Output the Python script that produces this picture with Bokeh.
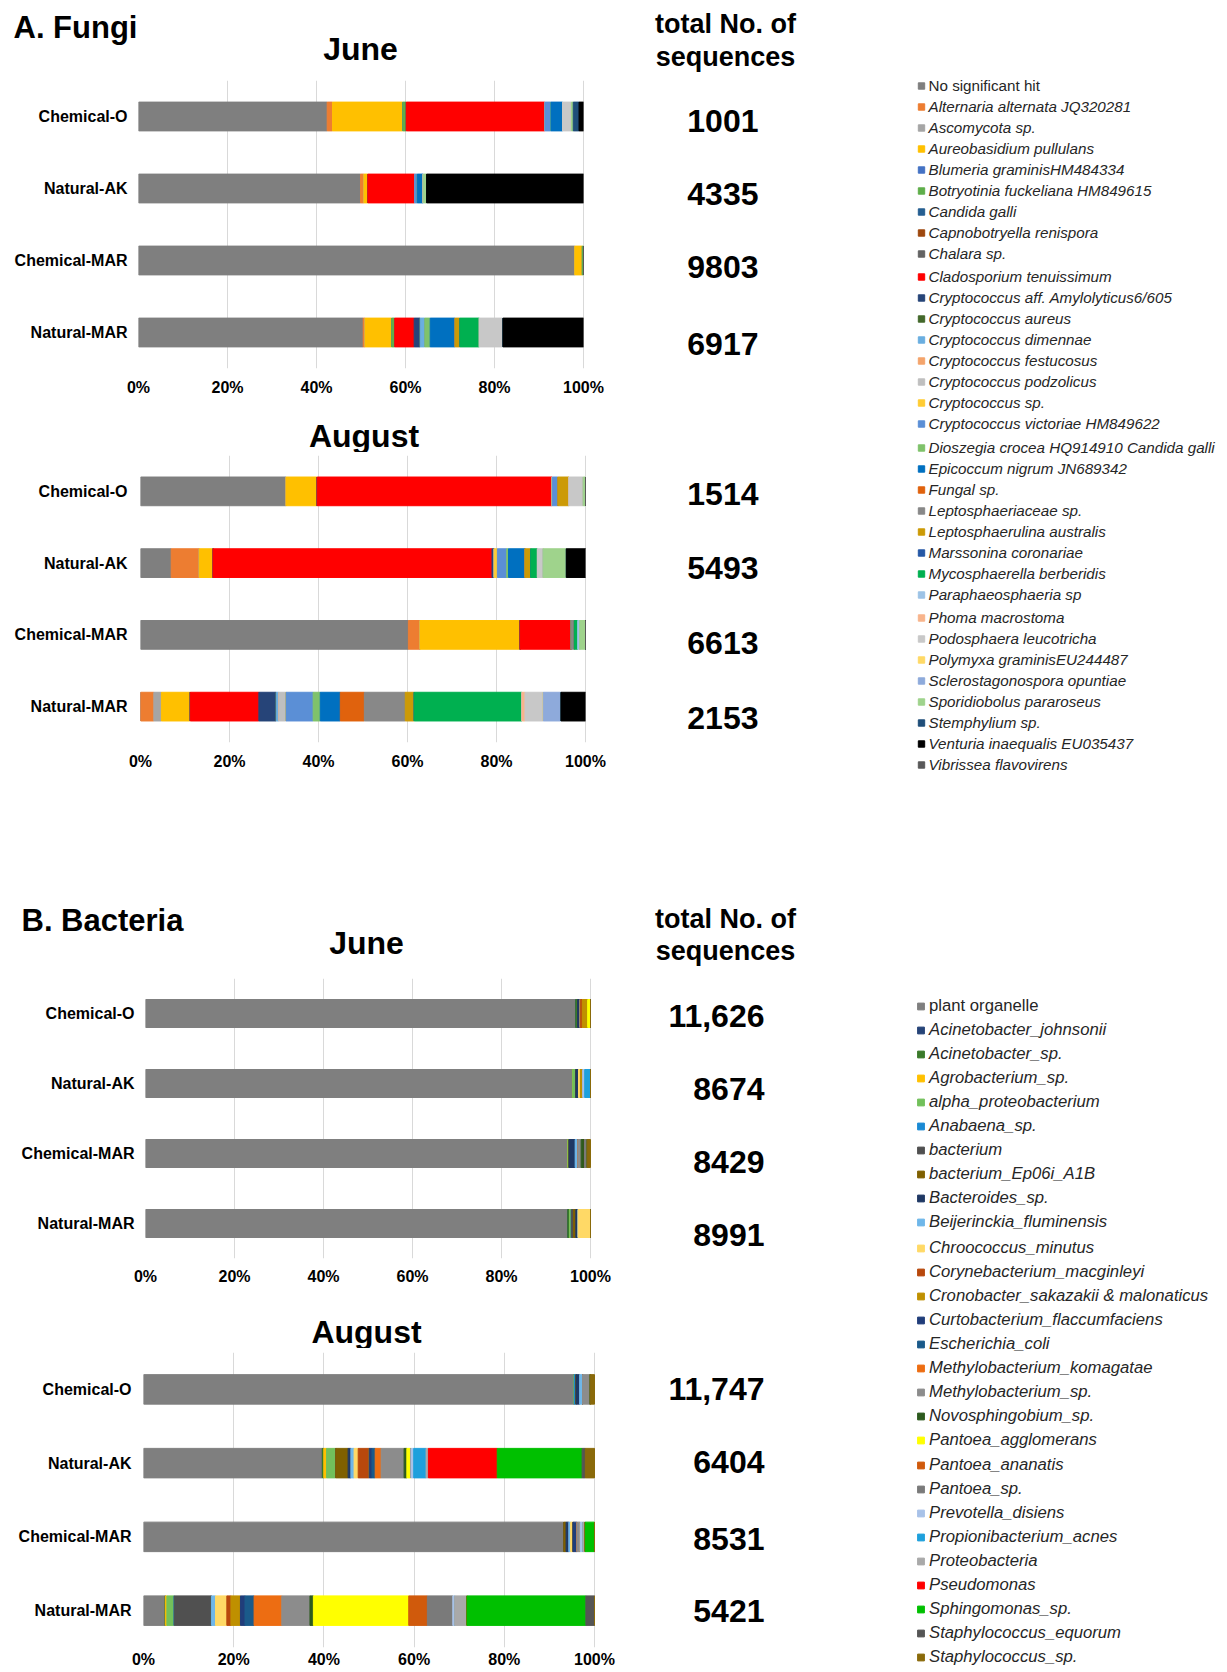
from bokeh.plotting import figure
from bokeh.models import (ColumnDataSource, FactorRange, Range1d, FixedTicker,
                          NumeralTickFormatter, Legend, LegendItem)
from bokeh.core.properties import value
from bokeh.layouts import column, row
from bokeh.embed import file_html
from bokeh.resources import INLINE

FONT = "Liberation Sans"

# ---------------- data ----------------
SAMPLES = ["Chemical-O", "Natural-AK", "Chemical-MAR", "Natural-MAR"]
TICKS = [0.0, 0.2, 0.4, 0.6, 0.8, 1.0]

FUNGI_SPECIES = [
    "No significant hit", "Alternaria alternata JQ320281", "Ascomycota sp.",
    "Aureobasidium pullulans", "Blumeria graminisHM484334", "Botryotinia fuckeliana HM849615",
    "Candida galli", "Capnobotryella renispora", "Chalara sp.", "Cladosporium tenuissimum",
    "Cryptococcus aff. Amylolyticus6/605", "Cryptococcus aureus", "Cryptococcus dimennae",
    "Cryptococcus festucosus", "Cryptococcus podzolicus", "Cryptococcus sp.",
    "Cryptococcus victoriae HM849622", "Dioszegia crocea HQ914910 Candida galli",
    "Epicoccum nigrum JN689342", "Fungal sp.", "Leptosphaeriaceae sp.",
    "Leptosphaerulina australis", "Marssonina coronariae", "Mycosphaerella berberidis",
    "Paraphaeosphaeria sp", "Phoma macrostoma", "Podosphaera leucotricha",
    "Polymyxa graminisEU244487", "Sclerostagonospora opuntiae", "Sporidiobolus pararoseus",
    "Stemphylium sp.", "Venturia inaequalis EU035437", "Vibrissea flavovirens",
]
FUNGI_COLORS = [
    "#7f7f7f", "#ed7d31", "#a5a5a5", "#ffc000", "#4472c4", "#5fae4a",
    "#255e91", "#9e480e", "#636363", "#ff0000", "#264478", "#43682b",
    "#6aaee0", "#f4a46c", "#bfbfbf", "#ffcc33", "#5b8fd6", "#7fc26b",
    "#0070c0", "#e0620d", "#888888", "#cc9a06", "#2658a6", "#00b050",
    "#9dc3e6", "#f8b48c", "#c8c8c8", "#ffd966", "#8eaadb", "#9fd38c",
    "#1f4e79", "#000000", "#595959",
]

FJ_CHEM_O = {"No significant hit": 42.4, "Alternaria alternata JQ320281": 1.2,
             "Aureobasidium pullulans": 15.8, "Botryotinia fuckeliana HM849615": 0.8,
             "Cladosporium tenuissimum": 31.1, "Cryptococcus victoriae HM849622": 1.4,
             "Epicoccum nigrum JN689342": 2.6, "Podosphaera leucotricha": 2.0,
             "Sporidiobolus pararoseus": 0.4, "Stemphylium sp.": 1.3,
             "Venturia inaequalis EU035437": 1.0}
FJ_NAT_AK = {"No significant hit": 49.9, "Alternaria alternata JQ320281": 0.75,
             "Aureobasidium pullulans": 0.9, "Cladosporium tenuissimum": 10.5,
             "Cryptococcus victoriae HM849622": 0.6, "Epicoccum nigrum JN689342": 1.35,
             "Sporidiobolus pararoseus": 0.75, "Venturia inaequalis EU035437": 35.25}
FJ_CHEM_MAR = {"No significant hit": 98.05, "Aureobasidium pullulans": 1.7,
               "Botryotinia fuckeliana HM849615": 0.25}
FJ_NAT_MAR = {"No significant hit": 50.5, "Alternaria alternata JQ320281": 0.4,
              "Aureobasidium pullulans": 6.0, "Botryotinia fuckeliana HM849615": 0.7,
              "Cladosporium tenuissimum": 4.35, "Cryptococcus aff. Amylolyticus6/605": 1.35,
              "Cryptococcus dimennae": 1.05, "Dioszegia crocea HQ914910 Candida galli": 1.2,
              "Epicoccum nigrum JN689342": 5.6, "Leptosphaerulina australis": 1.1,
              "Mycosphaerella berberidis": 4.35, "Podosphaera leucotricha": 5.3,
              "Venturia inaequalis EU035437": 18.1}

FA_CHEM_O = {"No significant hit": 32.7, "Aureobasidium pullulans": 7.0,
             "Cladosporium tenuissimum": 52.8, "Cryptococcus victoriae HM849622": 1.3,
             "Leptosphaerulina australis": 2.5, "Podosphaera leucotricha": 3.2,
             "Sporidiobolus pararoseus": 0.5}
FA_NAT_AK = {"No significant hit": 6.9, "Alternaria alternata JQ320281": 6.3,
             "Aureobasidium pullulans": 3.1, "Cladosporium tenuissimum": 62.7,
             "Cryptococcus aff. Amylolyticus6/605": 0.5, "Cryptococcus sp.": 0.7,
             "Cryptococcus victoriae HM849622": 2.1,
             "Dioszegia crocea HQ914910 Candida galli": 0.4,
             "Epicoccum nigrum JN689342": 3.7, "Leptosphaerulina australis": 1.3,
             "Mycosphaerella berberidis": 1.5, "Podosphaera leucotricha": 1.3,
             "Sporidiobolus pararoseus": 5.2, "Venturia inaequalis EU035437": 4.3}
FA_CHEM_MAR = {"No significant hit": 60.2, "Alternaria alternata JQ320281": 2.6,
               "Aureobasidium pullulans": 22.5, "Cladosporium tenuissimum": 11.5,
               "Leptosphaeriaceae sp.": 0.7, "Mycosphaerella berberidis": 0.75,
               "Paraphaeosphaeria sp": 0.45, "Sporidiobolus pararoseus": 1.3}
FA_NAT_MAR = {"Alternaria alternata JQ320281": 3.0, "Ascomycota sp.": 1.7,
              "Aureobasidium pullulans": 6.5, "Cladosporium tenuissimum": 15.4,
              "Cryptococcus aff. Amylolyticus6/605": 3.9, "Cryptococcus dimennae": 0.6,
              "Cryptococcus podzolicus": 1.6, "Cryptococcus victoriae HM849622": 6.1,
              "Dioszegia crocea HQ914910 Candida galli": 1.6,
              "Epicoccum nigrum JN689342": 4.5, "Fungal sp.": 5.4,
              "Leptosphaeriaceae sp.": 9.2, "Leptosphaerulina australis": 2.0,
              "Mycosphaerella berberidis": 24.2, "Phoma macrostoma": 0.7,
              "Podosphaera leucotricha": 4.1, "Sclerostagonospora opuntiae": 4.0,
              "Venturia inaequalis EU035437": 5.5}

BACT_SPECIES = [
    "plant organelle", "Acinetobacter_johnsonii", "Acinetobacter_sp.", "Agrobacterium_sp.",
    "alpha_proteobacterium", "Anabaena_sp.", "bacterium", "bacterium_Ep06i_A1B",
    "Bacteroides_sp.", "Beijerinckia_fluminensis", "Chroococcus_minutus",
    "Corynebacterium_macginleyi", "Cronobacter_sakazakii & malonaticus",
    "Curtobacterium_flaccumfaciens", "Escherichia_coli", "Methylobacterium_komagatae",
    "Methylobacterium_sp.", "Novosphingobium_sp.", "Pantoea_agglomerans",
    "Pantoea_ananatis", "Pantoea_sp.", "Prevotella_disiens", "Propionibacterium_acnes",
    "Proteobacteria", "Pseudomonas", "Sphingomonas_sp.", "Staphylococcus_equorum",
    "Staphylococcus_sp.",
]
BACT_COLORS = [
    "#7f7f7f", "#264478", "#3b7a2a", "#ffc000", "#72c05b", "#1a8ad4", "#505050",
    "#7f6000", "#1f3864", "#6fb7e9", "#ffd966", "#b8480c", "#bf9000", "#203d7a",
    "#1a5a8a", "#ed6d12", "#8c8c8c", "#2d5a1e", "#ffff00", "#d05a0c", "#7a7a7a",
    "#a8c2e8", "#1ea0dc", "#a9a9a9", "#ff0000", "#00c000", "#555555", "#8a6a0a",
]

BJ_CHEM_O = {"plant organelle": 96.7, "Acinetobacter_sp.": 0.4, "Bacteroides_sp.": 0.6,
             "Corynebacterium_macginleyi": 0.45, "Cronobacter_sakazakii & malonaticus": 1.2,
             "Pantoea_agglomerans": 0.65}
BJ_NAT_AK = {"plant organelle": 96.0, "alpha_proteobacterium": 0.7, "Bacteroides_sp.": 0.6,
             "Chroococcus_minutus": 0.45, "Cronobacter_sakazakii & malonaticus": 0.5,
             "Prevotella_disiens": 0.45, "Propionibacterium_acnes": 1.3}
BJ_CHEM_MAR = {"plant organelle": 94.9, "alpha_proteobacterium": 0.3, "Bacteroides_sp.": 1.35,
               "Beijerinckia_fluminensis": 0.6, "Methylobacterium_sp.": 0.75,
               "Novosphingobium_sp.": 0.75, "Pantoea_sp.": 0.6, "Staphylococcus_sp.": 0.75}
BJ_NAT_MAR = {"plant organelle": 94.9, "Acinetobacter_sp.": 0.4, "alpha_proteobacterium": 0.4,
              "bacterium": 0.5, "bacterium_Ep06i_A1B": 0.5, "Bacteroides_sp.": 0.5,
              "Chroococcus_minutus": 2.8}

BA_CHEM_O = {"plant organelle": 95.5, "Anabaena_sp.": 0.4, "Bacteroides_sp.": 0.8,
             "Beijerinckia_fluminensis": 0.65, "Methylobacterium_sp.": 1.7,
             "Staphylococcus_sp.": 0.95}
BA_NAT_AK = {"plant organelle": 39.0, "Acinetobacter_sp.": 0.3, "Agrobacterium_sp.": 0.6,
             "alpha_proteobacterium": 2.0, "bacterium_Ep06i_A1B": 2.7, "Bacteroides_sp.": 0.6,
             "Beijerinckia_fluminensis": 0.7, "Chroococcus_minutus": 0.9,
             "Corynebacterium_macginleyi": 2.4, "Curtobacterium_flaccumfaciens": 0.6,
             "Escherichia_coli": 0.7, "Methylobacterium_komagatae": 1.3,
             "Methylobacterium_sp.": 5.0, "Novosphingobium_sp.": 0.6,
             "Pantoea_agglomerans": 0.9, "Prevotella_disiens": 0.6,
             "Propionibacterium_acnes": 2.7, "Proteobacteria": 0.5, "Pseudomonas": 15.0,
             "Sphingomonas_sp.": 18.5, "Staphylococcus_equorum": 0.7,
             "Staphylococcus_sp.": 2.0}
BA_CHEM_MAR = {"plant organelle": 93.2, "bacterium_Ep06i_A1B": 0.5, "Bacteroides_sp.": 0.6,
               "Beijerinckia_fluminensis": 0.4, "Chroococcus_minutus": 0.5,
               "Curtobacterium_flaccumfaciens": 0.9, "Methylobacterium_sp.": 0.7,
               "Prevotella_disiens": 0.6, "Proteobacteria": 0.5, "Sphingomonas_sp.": 2.1}
BA_NAT_MAR = {"plant organelle": 4.8, "Agrobacterium_sp.": 0.35, "alpha_proteobacterium": 1.6,
              "bacterium": 8.2, "Beijerinckia_fluminensis": 0.9, "Chroococcus_minutus": 2.5,
              "Corynebacterium_macginleyi": 0.9, "Cronobacter_sakazakii & malonaticus": 2.1,
              "Curtobacterium_flaccumfaciens": 1.0, "Escherichia_coli": 2.0,
              "Methylobacterium_komagatae": 6.1, "Methylobacterium_sp.": 6.2,
              "Novosphingobium_sp.": 0.75, "Pantoea_agglomerans": 21.0,
              "Pantoea_ananatis": 4.1, "Pantoea_sp.": 5.6, "Prevotella_disiens": 0.4,
              "Proteobacteria": 2.7, "Sphingomonas_sp.": 26.2,
              "Staphylococcus_equorum": 1.9}

FUNGI_JUNE_TOTALS = ["1001", "4335", "9803", "6917"]
FUNGI_AUG_TOTALS = ["1514", "5493", "6613", "2153"]
BACT_JUNE_TOTALS = ["11,626", "8674", "8429", "8991"]
BACT_AUG_TOTALS = ["11,747", "6404", "8531", "5421"]

# ---------------- layout constants (page pixels) ----------------
X0 = 0          # page x of the layout's left edge
LEFT_W = 838
LEG_W = 385


def text_canvas(page_top, height, texts):
    """A frame-filling figure whose data units are page pixels, for free text."""
    p = figure(width=LEFT_W, height=height, title=None, frame_align=False,
               x_range=Range1d(X0, X0 + LEFT_W), y_range=Range1d(page_top + height, page_top),
               toolbar_location=None, output_backend="svg", min_border=0,
               x_axis_type=None, y_axis_type=None)
    p.outline_line_color = None
    for (X, Y, txt, size, align) in texts:
        p.text(x=[X], y=[Y], text=[txt], text_align=align, text_baseline="middle",
               text_font=value(FONT), text_font_size=value(size),
               text_font_style="bold", text_color="black")
    return p


def bar_panel(bars, species, colors, page_top, height, frame, ystand, xstand,
              totals, totals_x, totals_dy):
    left, top, bottom, bar_w = frame      # page px; bar_w = pixels spanned by 0..100 %
    n = len(species)
    keys = ["s%d" % i for i in range(n)]
    data = {"sample": SAMPLES}
    for i, sp in enumerate(species):
        data[keys[i]] = [b.get(sp, 0.0) / sum(b.values()) for b in bars]
    src = ColumnDataSource(data)
    x_end = (X0 + LEFT_W - left) / bar_w
    p = figure(width=LEFT_W, height=height, title=None, frame_align=False,
               y_range=FactorRange(*reversed(SAMPLES)), x_range=Range1d(0, x_end),
               toolbar_location=None, output_backend="svg",
               min_border_left=left - X0, min_border_right=0,
               min_border_top=top - page_top, min_border_bottom=page_top + height - bottom)
    p.hbar_stack(keys, y="sample", height=0.4, color=colors, source=src)
    # total number of sequences, drawn right-aligned beside each bar
    tsrc = ColumnDataSource({"sample": SAMPLES, "total": totals, "dy": totals_dy})
    p.text(x=(totals_x - left) / bar_w, y="sample", text="total", y_offset="dy",
           source=tsrc, text_align="right", text_baseline="middle",
           text_font=value(FONT), text_font_size=value("32px"),
           text_font_style="bold", text_color="black")
    p.outline_line_color = None
    p.ygrid.grid_line_color = None
    p.xgrid.grid_line_color = "#d9d9d9"
    p.xaxis.ticker = FixedTicker(ticks=TICKS)
    p.xaxis.bounds = (0, 1)
    p.xaxis.formatter = NumeralTickFormatter(format="0%")
    for ax in (p.xaxis, p.yaxis):
        ax.axis_line_color = None
        ax.major_tick_line_color = None
        ax.minor_tick_line_color = None
        ax.major_tick_out = 0
        ax.major_tick_in = 0
        ax.minor_tick_out = 0
        ax.major_label_text_font = FONT
        ax.major_label_text_font_size = "16px"
        ax.major_label_text_font_style = "bold"
        ax.major_label_text_color = "black"
    p.xaxis.major_label_standoff = xstand
    p.yaxis.major_label_standoff = ystand
    return p


HA1 = text_canvas(0, 72, [(13, 27, "A. Fungi", "31px", "left"),
                          (360, 48, "June", "32px", "center"),
                          (725, 23.5, "total No. of", "27px", "center"),
                          (725, 56.5, "sequences", "27px", "center")])
FAJ = bar_panel([FJ_CHEM_O, FJ_NAT_AK, FJ_CHEM_MAR, FJ_NAT_MAR], FUNGI_SPECIES, FUNGI_COLORS,
                72, 340, (138, 80, 368, 445), 11, 10,
                FUNGI_JUNE_TOTALS, 758, [4.5, 5, 6.5, 11])
HA2 = text_canvas(412, 40, [(363.5, 435, "August", "32px", "center")])
FAA = bar_panel([FA_CHEM_O, FA_NAT_AK, FA_CHEM_MAR, FA_NAT_MAR], FUNGI_SPECIES, FUNGI_COLORS,
                452, 333, (140, 455, 742, 445), 13, 10,
                FUNGI_AUG_TOTALS, 758, [2.6, 4.4, 8.6, 11.4])
HB1 = text_canvas(785, 185, [(21, 920, "B. Bacteria", "31px", "left"),
                             (366, 942, "June", "32px", "center"),
                             (725, 918, "total No. of", "27px", "center"),
                             (725, 950, "sequences", "27px", "center")])
FBJ = bar_panel([BJ_CHEM_O, BJ_NAT_AK, BJ_CHEM_MAR, BJ_NAT_MAR], BACT_SPECIES, BACT_COLORS,
                970, 330, (145, 978, 1258, 445), 11, 9,
                BACT_JUNE_TOTALS, 764, [2, 5, 8, 11.5])
HB2 = text_canvas(1300, 48, [(366, 1331, "August", "32px", "center")])
FBA = bar_panel([BA_CHEM_O, BA_NAT_AK, BA_CHEM_MAR, BA_NAT_MAR], BACT_SPECIES, BACT_COLORS,
                1348, 322, (143, 1352, 1648, 451), 12, 3,
                BACT_AUG_TOTALS, 764, [0, -1.5, 2, 0])


def legend_panel(species, colors, page_top, height, first_y, pitch_exact, pitch, gw, groups,
                 font_size):
    p = figure(width=LEG_W, height=height, title=None, frame_align=False,
               x_range=Range1d(0, 1), y_range=Range1d(0, 1),
               toolbar_location=None, output_backend="svg", min_border=0,
               x_axis_type=None, y_axis_type=None)
    p.outline_line_color = None
    nan = float("nan")
    rends = [p.scatter(x=[nan], y=[nan], marker="square", size=8, color=c) for c in colors]
    fig_left = X0 + LEFT_W
    fig_bottom = page_top + height
    for (a, b, style) in groups:
        top = first_y + pitch_exact * a - pitch / 2
        bot = top + pitch * (b - a)
        items = [LegendItem(label=species[k], renderers=[rends[k]]) for k in range(a, b)]
        leg = Legend(items=items, location=(920.5 - gw / 2 - fig_left, fig_bottom - bot),
                     orientation="vertical", padding=0, spacing=0, margin=0,
                     glyph_width=gw, glyph_height=pitch, label_height=pitch,
                     label_standoff=0, label_text_font=FONT,
                     label_text_font_size=font_size, label_text_font_style=style,
                     label_text_color="#262626", border_line_color=None,
                     background_fill_alpha=0)
        p.add_layout(leg)
    return p


LA = legend_panel(FUNGI_SPECIES, FUNGI_COLORS, 0, 785, 85.3, 21.29, 21, 16,
                  [(0, 1, "normal"), (1, 9, "italic"), (9, 17, "italic"),
                   (17, 25, "italic"), (25, 33, "italic")], "15.2px")
LB = legend_panel(BACT_SPECIES, BACT_COLORS, 785, 885, 1006.3, 24.16, 24, 17,
                  [(0, 1, "normal"), (1, 10, "italic"), (10, 19, "italic"),
                   (19, 28, "italic")], "16.7px")

layout = column(row(column(HA1, FAJ, HA2, FAA), LA),
                row(column(HB1, FBJ, HB2, FBA), LB))
open("out.html", "w").write(file_html(layout, INLINE, title="Fungi and Bacteria"))
